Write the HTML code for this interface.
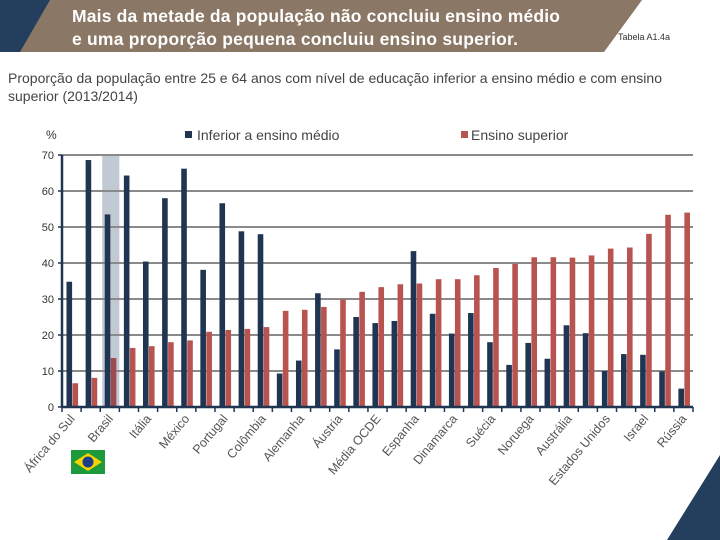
<!DOCTYPE html>
<html><head><meta charset="utf-8">
<style>
body{margin:0;width:720px;height:540px;overflow:hidden;background:#fff;font-family:"Liberation Sans",sans-serif;position:relative}
</style></head>
<body>
<svg width="720" height="540" style="position:absolute;left:0;top:0">
  <polygon points="0,0 60,0 30,52 0,52" fill="#243f5e"/>
  <polygon points="50,0 642,0 604,52 20,52" fill="#8b7765"/>
  <polygon points="720,455 720,540 667,540" fill="#243f5e"/>
  <text x="72" y="22" fill="#fff" font-size="17.5" font-weight="bold" textLength="488">Mais da metade da população não concluiu ensino médio</text>
  <text x="72" y="45" fill="#fff" font-size="17.5" font-weight="bold" textLength="446">e uma proporção pequena concluiu ensino superior.</text>
  <text x="618" y="40" fill="#333" font-size="9">Tabela A1.4a</text>
  <text x="8" y="83" fill="#444" font-size="14" textLength="654">Proporção da população entre 25 e 64 anos com nível de educação inferior a ensino médio e com ensino</text>
  <text x="8" y="101" fill="#444" font-size="14">superior (2013/2014)</text>
  <text x="46" y="139" fill="#333" font-size="12">%</text>
  <g><rect x="185" y="131" width="7" height="7" fill="#1f3552"/><text x="197" y="140" fill="#444" font-size="14">Inferior a ensino médio</text></g>
  <g><rect x="461" y="131" width="7" height="7" fill="#b85450"/><text x="471" y="140" fill="#444" font-size="14">Ensino superior</text></g>
  <g id="plot"></g>
  <g>
    <rect x="71" y="450" width="34" height="24" fill="#1d9a3c"/>
    <polygon points="88,453 102,462 88,471 74,462" fill="#f5d300"/>
    <circle cx="88" cy="462" r="5.5" fill="#1e3c8c"/>
  </g>
</svg>
<script>
const categories=["África do Sul","","Brasil","","Itália","","México","","Portugal","","Colômbia","","Alemanha","","Áustria","","Média OCDE","","Espanha","","Dinamarca","","Suécia","","Noruega","","Austrália","","Estados Unidos","","Israel","","Rússia"];
const inferior=[34.8,68.6,53.5,64.3,40.4,58,66.2,38.1,56.6,48.8,48.0,9.3,12.9,31.6,16.0,25.0,23.3,23.9,43.3,25.9,20.4,26.1,18.0,11.7,17.8,13.4,22.7,20.5,10.0,14.7,14.5,9.9,5.1];
const superior=[6.6,8.1,13.6,16.4,16.9,18,18.5,20.9,21.4,21.7,22.2,26.7,27.0,27.8,29.9,32.0,33.3,34.1,34.3,35.5,35.5,36.6,38.6,39.8,41.6,41.6,41.5,42.1,44.0,44.3,48.1,53.4,54.0];
const yTicks=[0,10,20,30,40,50,60,70];
const highlightIndex=2;
const NS="http://www.w3.org/2000/svg";
const X0=62,X1=693,Y0=407,Y70=155;
const slot=(X1-X0)/categories.length;
function xs(i){return X0+i*slot;}
function ys(v){return Y0-(v/70)*(Y0-Y70);}
const g=document.getElementById('plot');
function mk(tag,attrs){const e=document.createElementNS(NS,tag);for(const k in attrs)e.setAttribute(k,attrs[k]);g.appendChild(e);return e;}
let hl=mk('rect',{x:xs(highlightIndex)+2,y:ys(70),width:slot-2,height:Y0-ys(70),fill:'#c1c9d3'});


yTicks.forEach(t=>{
  if(t>0){const l=mk('line',{x1:X0,x2:X1,y1:ys(t),y2:ys(t),stroke:'#8a8a8a','stroke-width':2});
  
  }
  const tx=mk('text',{x:54,y:ys(t)+4,'text-anchor':'end','font-size':11,fill:'#333','font-family':'Liberation Sans'});
  tx.textContent=t;
  
  
  const tk=mk('line',{x1:X0-4,x2:X0,y1:ys(t),y2:ys(t),stroke:'#1f3552','stroke-width':1.5});
  
  
});
categories.forEach((c,i)=>{
  const b1=mk('rect',{x:xs(i)+4.5,y:ys(inferior[i]),width:5.6,height:Y0-ys(inferior[i]),fill:'#1f3552'});
  
  
  const b2=mk('rect',{x:xs(i)+10.5,y:ys(superior[i]),width:5.6,height:Y0-ys(superior[i]),fill:i===highlightIndex?'#9a4a50':'#b85450'});
  
  
  const tk=mk('line',{x1:xs(i),x2:xs(i),y1:Y0,y2:Y0+5,stroke:'#1f3552','stroke-width':1.5});
  
  
  if(c){
    const cx=xs(i)+slot*0.7, cy=Y0+12;
    const t=mk('text',{x:cx,y:cy,'text-anchor':'end','font-size':12.5,fill:'#555','font-family':'Liberation Sans',transform:`rotate(-50 ${cx} ${cy})`});
    t.textContent=c;
    
    
  }
});
const tkEnd=mk('line',{x1:X1,x2:X1,y1:Y0,y2:Y0+5,stroke:'#1f3552','stroke-width':1.5});


const xa=mk('line',{x1:X0,x2:X1,y1:Y0,y2:Y0,stroke:'#1f3552','stroke-width':2.5});


const ya=mk('line',{x1:X0,x2:X0,y1:ys(70),y2:Y0,stroke:'#1f3552','stroke-width':2.5});


</script>
</body></html>
